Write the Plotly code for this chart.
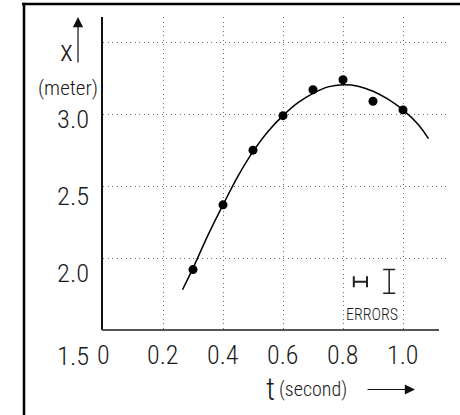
import plotly.graph_objects as go

# ---------------- data ----------------
t_obs = [0.3, 0.4, 0.5, 0.6, 0.7, 0.8, 0.9, 1.0]
x_obs = [1.92, 2.37, 2.75, 2.99, 3.17, 3.24, 3.09, 3.03]

t_fit = [0.265, 0.30, 0.35, 0.40, 0.45, 0.50, 0.55, 0.60, 0.65, 0.70,
         0.75, 0.80, 0.85, 0.90, 0.95, 1.00, 1.05, 1.085]
x_fit = [1.78, 1.93, 2.16, 2.37, 2.57, 2.74, 2.88, 2.99, 3.08, 3.145,
         3.19, 3.205, 3.195, 3.16, 3.105, 3.03, 2.93, 2.83]

t_ticks = [0, 0.2, 0.4, 0.6, 0.8, 1.0]
t_tick_text = ["0", "0.2", "0.4", "0.6", "0.8", "1.0"]
x_ticks = [3.0, 2.5, 2.0, 1.5]
x_tick_text = ["3.0", "2.5", "2.0", "1.5"]
x_grid = [2.0, 2.5, 3.0, 3.5]

t_error = 0.022   # horizontal (time) error half-width
x_error = 0.083   # vertical (position) error half-height

# ---------------- layout geometry ----------------
W, H = 460, 415
L, R, T, B = 103, 10, 17, 85
PW, PH = W - L - R, H - T - B
XPPU = 300.0              # pixels per second
YPPU = 143.85             # pixels per meter
T_MAX = PW / XPPU
X_MIN = 1.5
X_MAX = X_MIN + PH / YPPU


def pxx(px):
    return (px - L) / PW


def pxy(py):
    return (T + PH - py) / PH


FONT = "Roboto Condensed, Liberation Sans Narrow, sans-serif"
WT = 300
TXT = "#1a1a1a"


def f(size):
    return dict(family=FONT, size=size, color=TXT, weight=WT)


fig = go.Figure()

# fitted curve
fig.add_trace(go.Scatter(x=t_fit, y=x_fit, mode="lines",
                         line=dict(color="black", width=1.5, shape="spline"),
                         hoverinfo="skip", showlegend=False))
# measured points
fig.add_trace(go.Scatter(x=t_obs, y=x_obs, mode="markers",
                         marker=dict(color="black", size=9),
                         showlegend=False))
# error legend symbols
fig.add_trace(go.Scatter(x=[0.858], y=[1.835], mode="markers",
                         marker=dict(size=1, color="rgba(0,0,0,0)"),
                         error_x=dict(type="constant", value=t_error, width=5.5,
                                      thickness=2, color="#222"),
                         showlegend=False, hoverinfo="skip"))
fig.add_trace(go.Scatter(x=[0.954], y=[1.838], mode="markers",
                         marker=dict(size=1, color="rgba(0,0,0,0)"),
                         error_y=dict(type="constant", value=x_error, width=6,
                                      thickness=1.5, color="#222"),
                         showlegend=False, hoverinfo="skip"))

annotations = []
# x tick labels
for v, s in zip(t_ticks, t_tick_text):
    annotations.append(dict(x=v, xref="x", y=pxy(355), yref="paper", text=s,
                            showarrow=False, xanchor="center", yanchor="middle",
                            font=f(26)))
# y tick labels
drops = {3.0: 4, 2.5: 9, 2.0: 14, 1.5: 25}
for v, s in zip(x_ticks, x_tick_text):
    annotations.append(dict(x=pxx(91), xref="paper", y=v, yref="y",
                            yshift=-drops[v], text=s, showarrow=False,
                            xanchor="right", yanchor="middle",
                            font=f(26.5)))
# axis titles
annotations += [
    dict(x=pxx(66), y=pxy(51), xref="paper", yref="paper", text="x",
         showarrow=False, xanchor="center", yanchor="middle", font=f(30)),
    dict(x=pxx(67.5), y=pxy(87.5), xref="paper", yref="paper", text="(meter)",
         showarrow=False, xanchor="center", yanchor="middle", font=f(21)),
    dict(x=pxx(264), y=pxy(389.5), xref="paper", yref="paper", text="t",
         showarrow=False, xanchor="left", yanchor="middle", font=f(31)),
    dict(x=pxx(277), y=pxy(389), xref="paper", yref="paper", text="(second)",
         showarrow=False, xanchor="left", yanchor="middle", font=f(20)),
    dict(x=pxx(372), y=pxy(314), xref="paper", yref="paper", text="ERRORS",
         showarrow=False, xanchor="center", yanchor="middle", font=f(16)),
    # up arrow beside x
    dict(x=pxx(78), y=pxy(17), xref="paper", yref="paper", text="",
         showarrow=True, ax=0, ay=47, arrowhead=2, arrowsize=1.7,
         arrowwidth=1.2, arrowcolor="#111"),
    # right arrow after t (second)
    dict(x=pxx(415), y=pxy(389.5), xref="paper", yref="paper", text="",
         showarrow=True, ax=-49, ay=0, arrowhead=2, arrowsize=1.7,
         arrowwidth=1.2, arrowcolor="#111"),
]

shapes = [
    # frame: top and left
    dict(type="line", xref="paper", yref="paper", x0=pxx(22), x1=pxx(462),
         y0=pxy(4), y1=pxy(4), line=dict(color="black", width=2.5)),
    dict(type="line", xref="paper", yref="paper", x0=pxx(24), x1=pxx(24),
         y0=pxy(2.8), y1=pxy(420), line=dict(color="black", width=2.5)),
    # x axis line
    dict(type="line", xref="paper", yref="paper", x0=pxx(102), x1=pxx(439),
         y0=0, y1=0, line=dict(color="#555", width=2)),
]

fig.update_layout(
    width=W, height=H,
    margin=dict(l=L, r=R, t=T, b=B, pad=0),
    paper_bgcolor="white", plot_bgcolor="white",
    showlegend=False,
    annotations=annotations,
    shapes=shapes,
    xaxis=dict(range=[0, T_MAX], tickvals=t_ticks, showticklabels=False,
               ticks="", showgrid=True, gridcolor="#6e6e6e", gridwidth=1,
               griddash="1.2px,3.3px", zeroline=False, showline=False,
               fixedrange=True),
    yaxis=dict(range=[X_MIN, X_MAX], tickvals=x_grid, showticklabels=False,
               ticks="", showgrid=True, gridcolor="#6e6e6e", gridwidth=1,
               griddash="1.2px,3.3px", zeroline=False, showline=True,
               linecolor="#111", linewidth=1.5, fixedrange=True),
)

fig.write_html("out.html", config={"displayModeBar": False},
               post_script="document.body.style.margin='0';"
                           "document.body.style.padding='0';")
